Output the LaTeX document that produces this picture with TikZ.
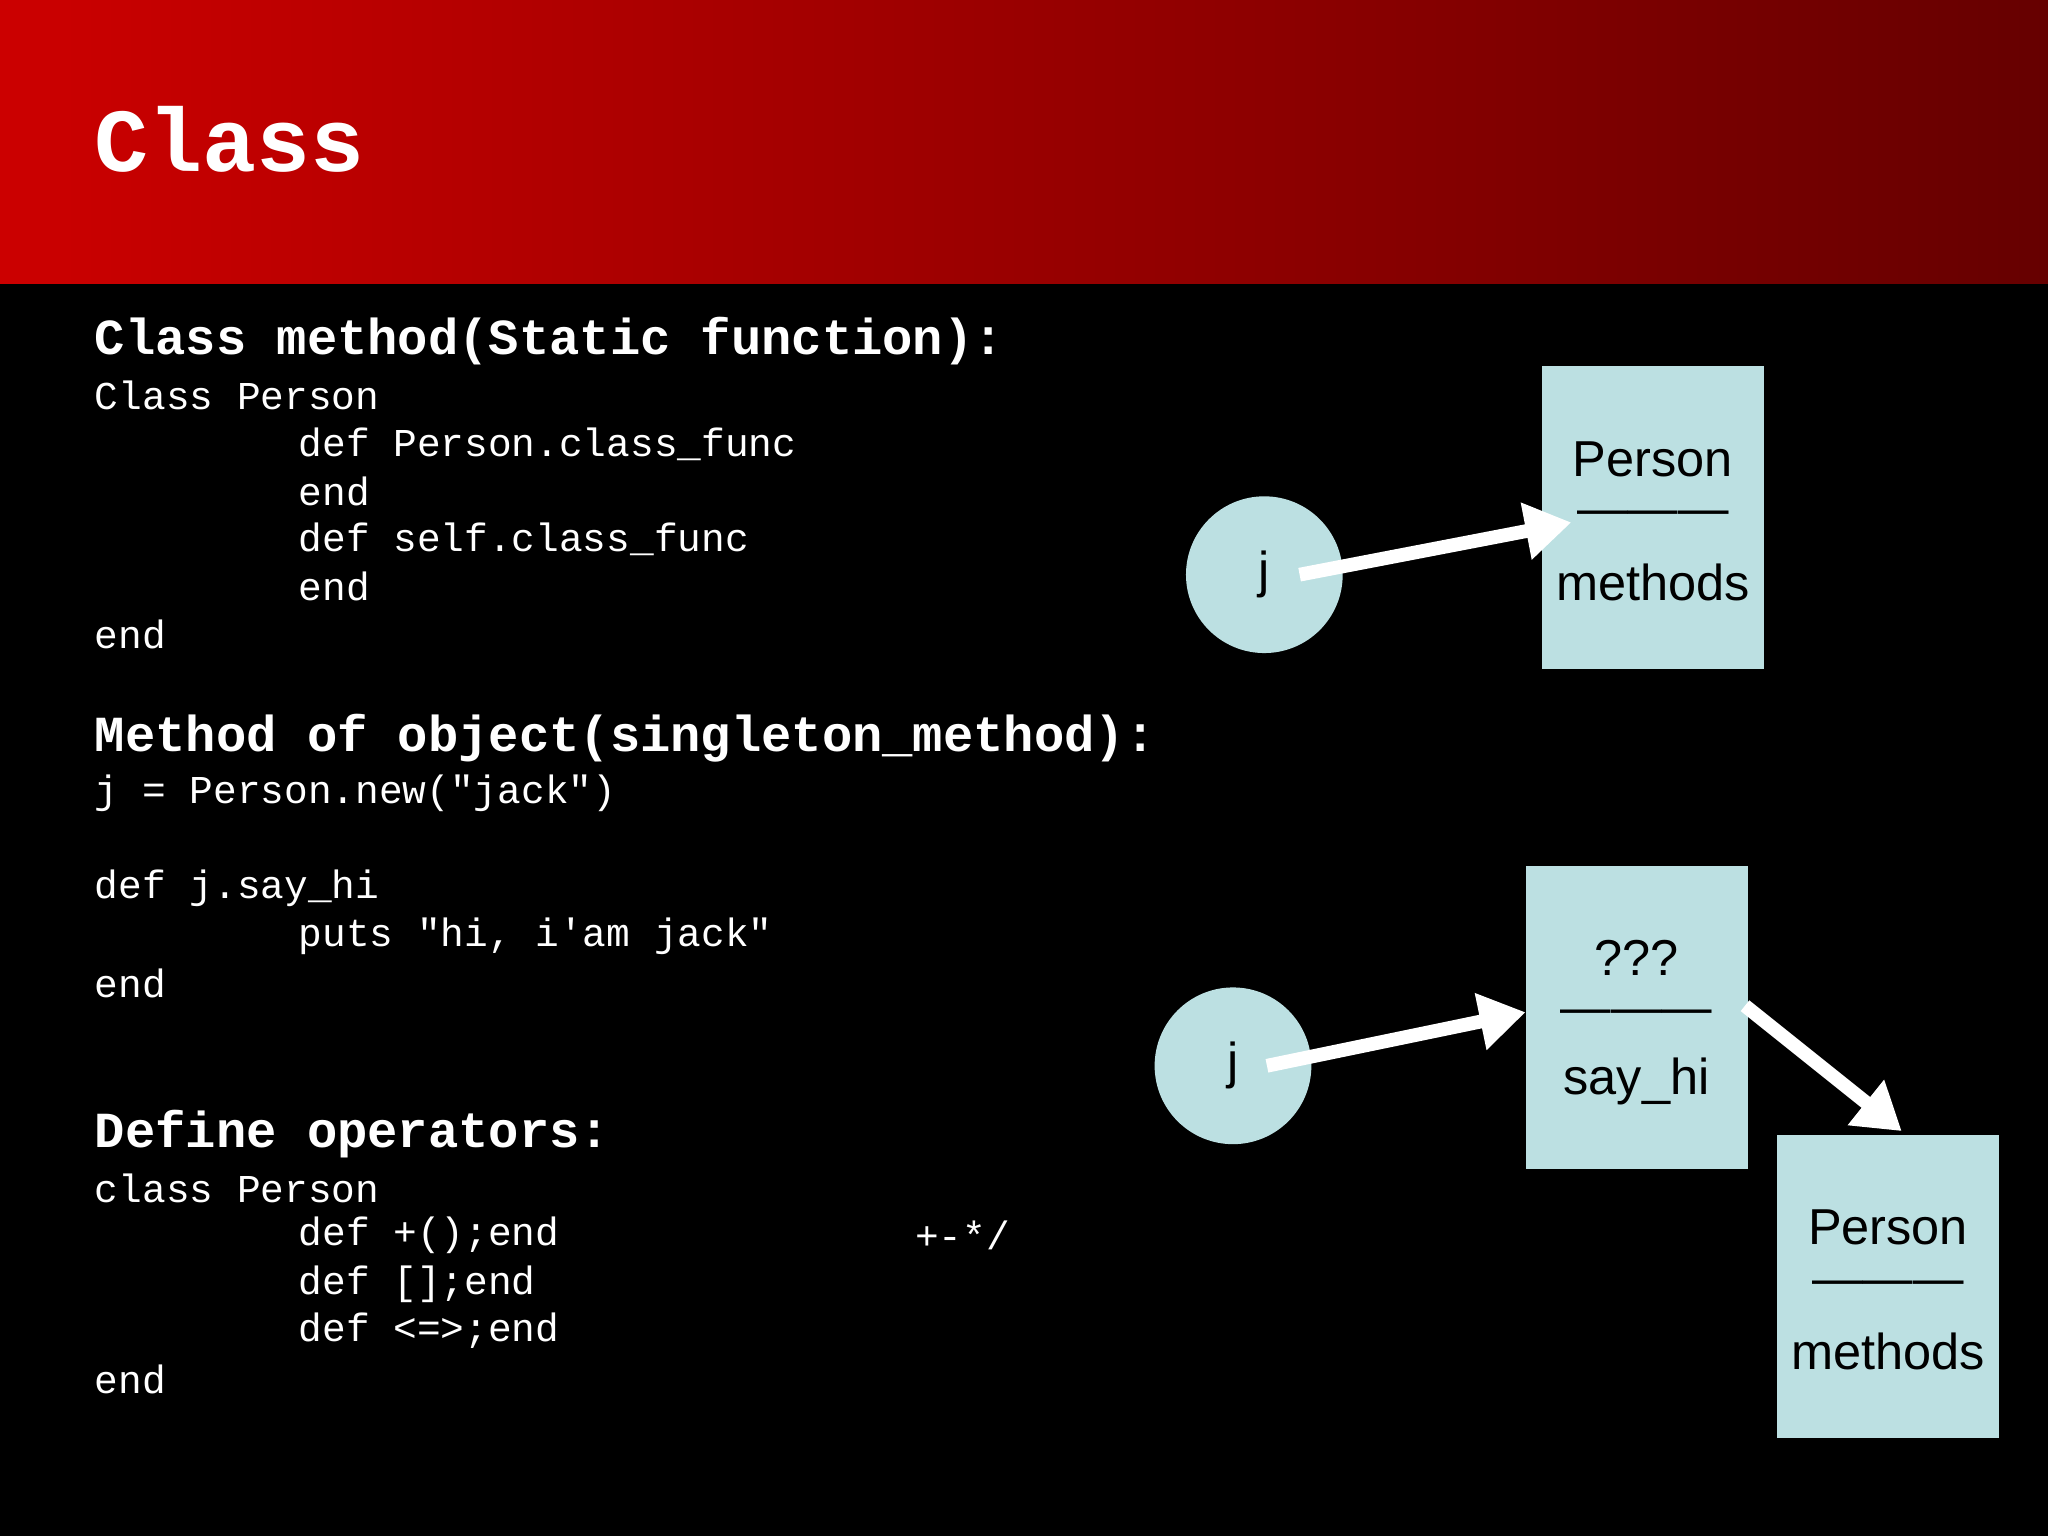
\documentclass[tikz,border=0pt]{standalone}
\usepackage{fontspec}
\setmainfont{Liberation Sans}
\newfontfamily\codefont{Liberation Mono}
\usetikzlibrary{arrows.meta}
\definecolor{boxc}{HTML}{BCE0E2}
\tikzset{
 code/.style={anchor=west,text=white,font=\codefont\fontsize{8.6}{10}\selectfont,inner sep=0},
 head/.style={anchor=west,text=white,font=\codefont\bfseries\fontsize{11}{13}\selectfont,inner sep=0},
 circ/.style={circle,fill=boxc,minimum size=1.2cm,inner sep=0,font=\fontsize{11}{13}\selectfont},
 box/.style={fill=boxc,minimum width=1.7cm,minimum height=2.32cm,inner sep=0},
 lbl/.style={font=\fontsize{11}{13}\selectfont,inner sep=0},
 arr/.style={white,line width=3pt,-{Triangle[length=10pt,width=12pt]}}
}
\begin{document}
\begin{tikzpicture}
\fill[black] (0,0) rectangle (15.68,-11.76);
\shade[left color=red!80!black, right color=red!40!black] (0,0) rectangle (15.68,-2.17);
\useasboundingbox (0,0) rectangle (15.68,-11.76);
\node[anchor=west,text=white,font=\codefont\bfseries\fontsize{19.6}{22}\selectfont,inner sep=0] (title) at (0.72,-1.07) {Class};
\node[head] (h1) at (0.72,-2.61) {Class method(Static function):};
\node[code] (c1) at (0.72,-3.03) {Class Person};
\node[code] (c2) at (2.28,-3.40) {def Person.class\_func};
\node[code] (c3) at (2.28,-3.76) {end};
\node[code] (c4) at (2.28,-4.13) {def self.class\_func};
\node[code] (c5) at (2.28,-4.49) {end};
\node[code] (c6) at (0.72,-4.86) {end};
\node[head] (h2) at (0.72,-5.65) {Method of object(singleton\_method):};
\node[code] (d1) at (0.72,-6.07) {j = Person.new("jack")};
\node[code] (d2) at (0.72,-6.80) {def j.say\_hi};
\node[code] (d3) at (2.28,-7.17) {puts "hi, i'am jack"};
\node[code] (d4) at (0.72,-7.53) {end};
\node[head] (h3) at (0.72,-8.68) {Define operators:};
\node[code] (e1) at (0.72,-9.10) {class Person};
\node[code] (e2) at (2.28,-9.46) {def +();end};
\node[code] (e5) at (7.00,-9.46) {+-*/};
\node[code] (e3) at (2.28,-9.83) {def [];end};
\node[code] (e4) at (2.28,-10.19) {def <=>;end};
\node[code] (e6) at (0.72,-10.56) {end};
% diagram 1
\node[circ] (j1) at (9.68,-4.40) {j};
\node[box] (b1) at (12.655,-3.965) {};
\node[lbl] at (12.655,-3.52) {Person};
\node[lbl] at (12.655,-3.97) {---------};
\node[lbl] at (12.655,-4.46) {methods};
\coordinate (a1s) at (9.95,-4.40);
\coordinate (a1e) at (12.03,-4.00);
\draw[arr] (a1s) -- (a1e);
% diagram 2
\node[circ] (j2) at (9.44,-8.16) {j};
\node[box] (b2) at (12.53,-7.79) {};
\node[lbl] at (12.53,-7.33) {???};
\node[lbl] at (12.53,-7.79) {---------};
\node[lbl] at (12.53,-8.28) {say\_hi};
\node[box] (b3) at (14.455,-9.85) {};
\node[lbl] at (14.455,-9.40) {Person};
\node[lbl] at (14.455,-9.86) {---------};
\node[lbl] at (14.455,-10.35) {methods};
\coordinate (a2s) at (9.70,-8.16);
\coordinate (a2e) at (11.68,-7.75);
\draw[arr] (a2s) -- (a2e);
\coordinate (a3s) at (13.36,-7.70);
\coordinate (a3e) at (14.56,-8.66);
\draw[arr] (a3s) -- (a3e);
\end{tikzpicture}
\end{document}
